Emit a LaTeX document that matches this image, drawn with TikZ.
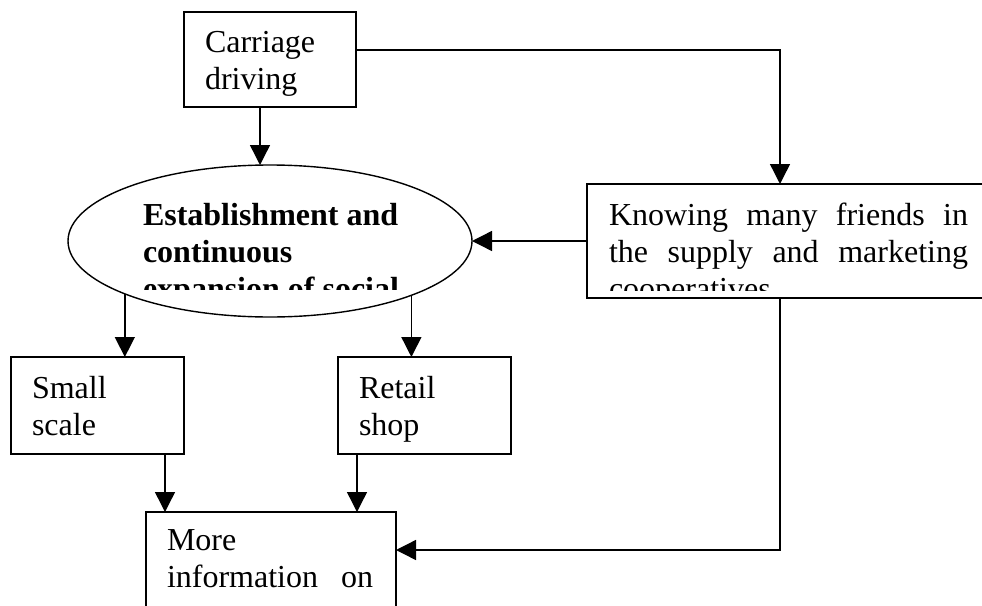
\documentclass[tikz,border=0pt]{standalone}
\usepackage{fontspec}
\setmainfont{Liberation Serif}
\usetikzlibrary{shapes.geometric,arrows.meta}
\tikzset{
  box/.style={draw, line width=1.4pt, inner sep=0pt, outer sep=0pt, anchor=north west},
  oval/.style={draw, ellipse, line width=1.4pt, inner sep=0pt, outer sep=0pt},
  txt/.style={anchor=base west, inner sep=0pt, outer sep=0pt, font=\fontsize{32}{37}\selectfont},
  txtb/.style={txt, font=\fontsize{32}{37}\selectfont\bfseries},
  conn/.style={line width=1.4pt, -{Triangle[length=20pt,width=20pt]}},
}
\begin{document}
\begin{tikzpicture}[x=1pt,y=-1pt]
\useasboundingbox (0,0) rectangle (982,605);
\clip (0,0) rectangle (982,605);
% boxes
\node[box, minimum width=172pt, minimum height=95pt] (car) at (184,12) {};
\node[box, minimum width=420pt, minimum height=114pt] (kn) at (587,184) {};
\node[oval, minimum width=404pt, minimum height=152pt] (est) at (270,241) {};
\node[box, minimum width=173pt, minimum height=97pt] (sm) at (11,357) {};
\node[box, minimum width=173pt, minimum height=97pt] (rt) at (338,357) {};
\node[box, minimum width=250pt, minimum height=140pt] (mi) at (146,512) {};
% texts
\node[txt] (cart) at (205,52) {\parbox[t]{150pt}{Carriage\\driving}};
\begin{scope}
  \clip (120,180) rectangle (440,289);
  \node[txtb] (estt) at (143,225) {\parbox[t]{300pt}{Establishment and\\continuous\\expansion of social}};
\end{scope}
\begin{scope}
  \clip (595,186) rectangle (982,290);
  \node[txt] (knt) at (609,225) {\parbox[t]{359pt}{Knowing\hfill many\hfill friends\hfill in\\the\hfill supply\hfill and\hfill marketing\\cooperatives}};
\end{scope}
\node[txt] (smt) at (32,398) {\parbox[t]{140pt}{Small\\scale}};
\node[txt] (rtt) at (359,398) {\parbox[t]{140pt}{Retail\\shop}};
\node[txt] (mit) at (167,550) {\parbox[t]{206pt}{More\\information\hfill on}};
% connectors
\draw[conn] ([xshift=-10pt]car.south) -- ([xshift=-10pt]car.south |- est.north);
\draw[conn] ([yshift=9.5pt]car.east) -| ([xshift=-17pt]kn.north);
\draw[conn] (kn.west) -- (est.east);
\draw[conn] (est.200.58) -- (est.200.58 |- sm.north);
\draw[conn] (est.339.95) -- (est.339.95 |- rt.north);
\draw[conn] ([xshift=67.5pt]sm.south) -- ([xshift=67.5pt]sm.south |- mi.north);
\draw[conn] ([xshift=-67.5pt]rt.south) -- ([xshift=-67.5pt]rt.south |- mi.north);
\draw[conn] ([xshift=-17pt]kn.south) |- ([yshift=32pt]mi.east);
\end{tikzpicture}
\end{document}
